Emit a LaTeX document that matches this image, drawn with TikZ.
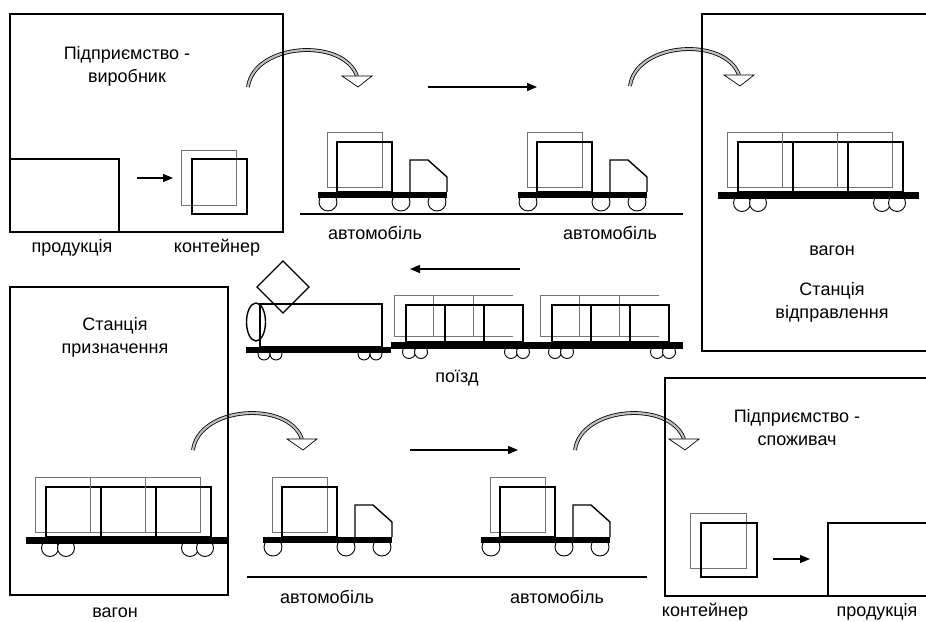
\documentclass[tikz,border=0pt]{standalone}
\usepackage{fontspec}
\setmainfont{Liberation Sans}
\usetikzlibrary{arrows.meta}
\tikzset{
  box/.style={line width=1.2pt},
  move/.style={-{Triangle[length=10pt, width=8pt]}, line width=1.2pt},
  ghost/.style={draw=black!55, line width=0.8pt},
  crate/.style={draw=black, line width=1.4pt},
  wheel/.style={draw=black, fill=white, line width=0.9pt},
  shaft/.style={draw=black, line width=0.8pt, double=black!25, double distance=2.2pt},
  head/.style={draw=black, fill=white, line width=0.7pt},
  every node/.append style={font=\fontsize{18}{23}\selectfont, align=center},
  % lorry: origin = left of the load, top of the chassis
  truck/.pic={
    \foreach \w in {1,74,110} \draw[wheel] (\w,10) circle (9);
    \fill (-9,0) rectangle (120,6);
    \draw[ghost] (0,-60) rectangle (55,-5);
    \draw[crate] (10,-50) rectangle (65,0);
    \draw[crate] (83,0) -- (83,-32) -- (101,-32) -- (120,-15) -- (120,0);
  },
  % flat wagon with three containers
  wagon/.pic={
    \foreach \w in {4,20,144,159} \draw[wheel] (\w,11) circle (8.5);
    \fill (-20,0) rectangle (181,7);
    \foreach \k in {0,1,2} {
      \draw[ghost] (55*\k-11,-60) rectangle ++(55,55);
      \draw[crate] (55*\k,-50) rectangle ++(55,50);
    }
  },
  % wagon of the train
  car/.pic={
    \foreach \w in {3,15,105,117} \draw[wheel] (\w,10) circle (6.5);
    \fill (-15,0) rectangle (131,7);
    \draw[ghost] (107,-47) -- (-12,-47) -- (-12,-6) -- (107,-6);
    \draw[ghost] (27,-47) -- (27,-6) (67,-47) -- (67,-6);
    \foreach \k in {0,1,2} \draw[crate] (39*\k,-37) rectangle ++(39,37);
  },
  % curved transfer arrow, origin = tail
  hop/.pic={
    \draw[shaft] (0,0) .. controls (6,-44) and (95,-50) .. (109,-11);
    \draw[head] (94,-11) -- (124,-11) -- (110,0) -- cycle;
  }
}

\begin{document}
\begin{tikzpicture}[x=1pt, y=-1pt]
\clip (0,0) rectangle (926,621);
\fill[white] (0,0) rectangle (926,621);

% transfers
\pic at (248,87) {hop};
\pic at (630,86) {hop};
\pic at (193,450) {hop};
\pic at (575,450) {hop};

% enterprise (maker)
\draw[box] (10,14) rectangle (283,232);
\draw[box] (10,159) rectangle (119,232);
\draw[ghost] (181,150) rectangle (236,205);
\draw[crate] (192,159) rectangle (247,214);
\coordinate (in1) at (137,178);
\coordinate (out1) at (173,178);
\draw[move] (in1) -- (out1);
\node (maker) at (127,66) {Підприємство -\\виробник};
\node (prod1) at (72,248) {продукція};
\node (cont1) at (217,248) {контейнер};

% road to the station
\pic at (327,192) {truck};
\pic at (527,192) {truck};
\draw[box] (300,214) -- (683,214);
\coordinate (r1) at (428,87);
\coordinate (r2) at (537,87);
\draw[move] (r1) -- (r2);
\node (auto1) at (375,233) {автомобіль};
\node (auto2) at (610,233) {автомобіль};

% station of departure
\draw[box] (702,14) rectangle (940,351);
\pic at (738,192) {wagon};
\node (wagon1) at (832,251) {вагон};
\node (depart) at (832,302) {Станція\\відправлення};

% train
\pic at (406,342) {car};
\pic at (552,342) {car};
\foreach \w in {264,276,364,376} \draw[wheel] (\w,354) circle (6);
\fill (246,347) rectangle (391,353);
\draw[crate] (260,304) rectangle (382,347);
\draw[crate] (256,322) ellipse (9.5 and 19);
\draw[crate] (283,261) -- (309,287) -- (283,313) -- (257,287) -- cycle;
\coordinate (t1) at (520,269);
\coordinate (t2) at (410,269);
\draw[move] (t1) -- (t2);
\node (train) at (457,378) {поїзд};

% station of destination
\draw[box] (10,287) rectangle (228,595);
\pic at (46,537) {wagon};
\node (arrive) at (115,337) {Станція\\призначення};
\node (wagon2) at (115,613) {вагон};

% road to the consumer
\pic at (272,537) {truck};
\pic at (490,537) {truck};
\draw[box] (247,577) -- (647,577);
\coordinate (r3) at (410,450);
\coordinate (r4) at (518,450);
\draw[move] (r3) -- (r4);
\node (auto3) at (327,597) {автомобіль};
\node (auto4) at (557,597) {автомобіль};

% enterprise (consumer)
\draw[box] (665,378) rectangle (940,596);
\draw[box] (828,523) rectangle (940,596);
\draw[ghost] (690,513) rectangle (746,568);
\draw[crate] (701,523) rectangle (757,577);
\coordinate (in2) at (773,559);
\coordinate (out2) at (810,559);
\draw[move] (in2) -- (out2);
\node (user) at (797,428) {Підприємство -\\споживач};
\node (cont2) at (705,612) {контейнер};
\node (prod2) at (877,612) {продукція};
\end{tikzpicture}
\end{document}
